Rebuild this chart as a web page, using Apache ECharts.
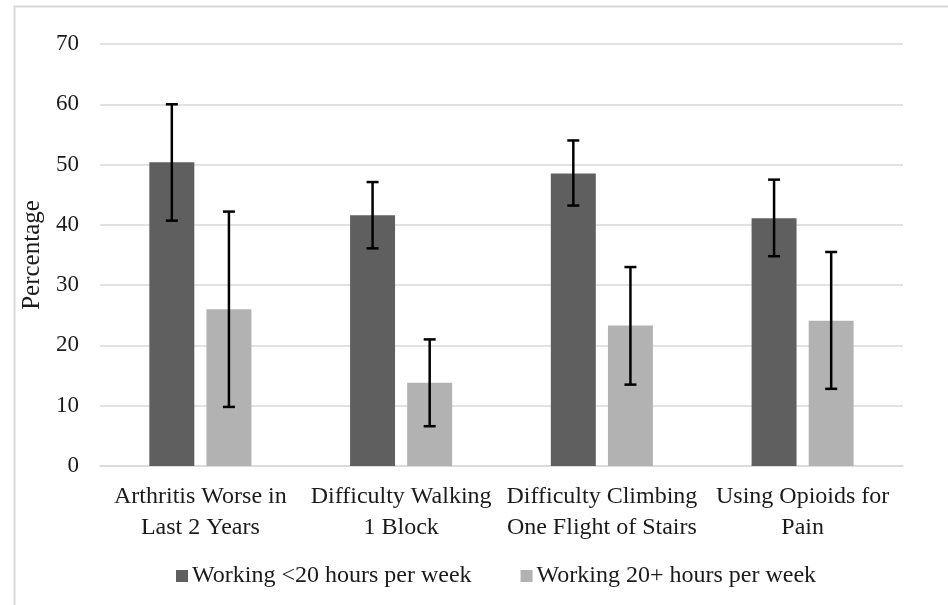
<!DOCTYPE html>
<html>
<head>
<meta charset="utf-8">
<script src="https://cdn.jsdelivr.net/npm/echarts@6/dist/echarts.min.js"></script>
<style>html,body{margin:0;padding:0;background:#fff;}#c{width:948px;height:605px;}</style>
</head>
<body>
<div id="c"></div>
<script>
const categories = ['Arthritis Worse in\nLast 2 Years', 'Difficulty Walking\n1 Block', 'Difficulty Climbing\nOne Flight of Stairs', 'Using Opioids for\nPain'];
const seriesNames = ['Working <20 hours per week', 'Working 20+ hours per week'];
const under20 = [50.4, 41.6, 48.5, 41.1];
const under20Low = [40.7, 36.1, 43.2, 34.8];
const under20High = [60.0, 47.1, 54.0, 47.5];
const over20 = [26.0, 13.8, 23.3, 24.1];
const over20Low = [9.8, 6.6, 13.5, 12.8];
const over20High = [42.2, 21.0, 33.0, 35.5];
const yTicks = [0, 10, 20, 30, 40, 50, 60, 70];

const FONT = 'Liberation Serif';
const BAR_W = 0.224, BAR_GAP = 0.27;

function errorSeries(low, high, side) {
  return {
    type: 'custom',
    z: 10,
    silent: true,
    data: low.map((l, i) => [i, l, high[i]]),
    renderItem: function (params, api) {
      const idx = api.value(0);
      const band = api.size([1, 0])[0];
      const off = side * band * BAR_W * (1 + BAR_GAP) / 2;
      const pLow = api.coord([idx, api.value(1)]);
      const pHigh = api.coord([idx, api.value(2)]);
      const x = pLow[0] + off;
      const cap = 6;
      const style = { stroke: '#000', lineWidth: 2.5, fill: null };
      return {
        type: 'group',
        children: [
          { type: 'line', shape: { x1: x, y1: pLow[1], x2: x, y2: pHigh[1] }, style: style },
          { type: 'line', shape: { x1: x - cap, y1: pLow[1], x2: x + cap, y2: pLow[1] }, style: style },
          { type: 'line', shape: { x1: x - cap, y1: pHigh[1], x2: x + cap, y2: pHigh[1] }, style: style }
        ]
      };
    }
  };
}

const chart = echarts.init(document.getElementById('c'), null, { renderer: 'canvas' });
chart.setOption({
  animation: false,
  backgroundColor: '#fff',
  textStyle: { fontFamily: FONT },
  graphic: [{
    type: 'rect', left: 12, top: 4, shape: { width: 960, height: 620 },
    style: { fill: null, stroke: '#d9d9d9', lineWidth: 2 }, silent: true, z: -1
  }],
  grid: { left: 100, right: 45, top: 44, bottom: 139, containLabel: false },
  legend: {
    data: seriesNames,
    top: 559,
    left: 171,
    itemWidth: 12,
    itemHeight: 12,
    itemGap: 49,
    icon: 'rect',
    textStyle: { fontFamily: FONT, fontSize: 24, color: '#1a1a1a', padding: [0, 0, 0, -1] }
  },
  xAxis: {
    type: 'category',
    data: categories,
    axisLine: { show: true, lineStyle: { color: '#d9d9d9', width: 1.5 } },
    axisTick: { show: false },
    axisLabel: { fontFamily: FONT, fontSize: 24, color: '#1a1a1a', lineHeight: 31, margin: 15, interval: 0 }
  },
  yAxis: {
    type: 'value',
    min: 0, max: 70, interval: 10,
    name: 'Percentage',
    nameLocation: 'middle',
    nameGap: 54,
    nameTextStyle: { fontFamily: FONT, fontSize: 25, color: '#1a1a1a' },
    axisLine: { show: false },
    axisTick: { show: false },
    splitLine: { lineStyle: { color: '#d9d9d9', width: 1.5 } },
    axisLabel: { fontFamily: FONT, fontSize: 23, color: '#1a1a1a', margin: 21,
      formatter: v => yTicks.includes(v) ? String(v) : '' }
  },
  series: [
    { name: seriesNames[0], type: 'bar', data: under20, barWidth: (BAR_W * 100) + '%', barGap: (BAR_GAP * 100) + '%',
      itemStyle: { color: '#5f5f5f' } },
    { name: seriesNames[1], type: 'bar', data: over20, barWidth: (BAR_W * 100) + '%',
      itemStyle: { color: '#b2b2b2' } },
    errorSeries(under20Low, under20High, -1),
    errorSeries(over20Low, over20High, 1)
  ]
});
</script>
</body>
</html>
